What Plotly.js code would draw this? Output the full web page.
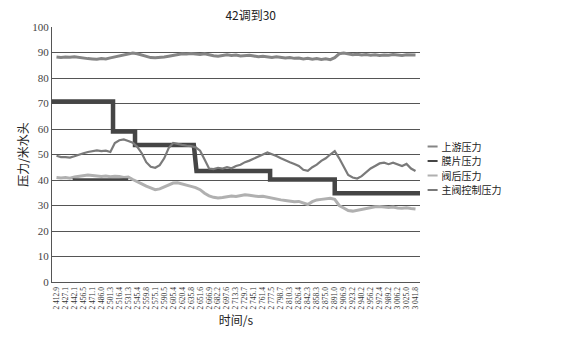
<!DOCTYPE html>
<html>
<head>
<meta charset="utf-8">
<script src="https://cdn.plot.ly/plotly-3.0.1.min.js"></script>
<style>html,body{margin:0;padding:0;background:#fff;}#chart{width:562px;height:343px;}</style>
</head>
<body>
<div id="chart"></div>
<script>
// Category (time) tick labels, in seconds
var timeLabels = ["2 412.9","2 427.1","2 442.1","2 456.5","2 471.1","2 486.0","2 501.3","2 516.4","2 531.3","2 545.4",
  "2 559.8","2 575.1","2 590.5","2 605.4","2 620.4","2 635.8","2 651.6","2 666.9","2 682.2","2 697.6",
  "2 713.3","2 729.7","2 745.1","2 761.4","2 777.5","2 798.7","2 810.3","2 826.4","2 842.3","2 858.3",
  "2 875.0","2 891.0","2 906.9","2 923.2","2 940.2","2 956.2","2 972.4","2 989.2","3 006.2","3 025.0","3 041.8"];

var seriesNames = ["上游压力","膜片压力","阀后压力","主阀控制压力"];

// 上游压力 (sampled every half category)
var upstream = [88.2,88.0,88.2,88.1,88.3,88.0,87.9,87.6,87.5,87.4,87.6,87.5,87.9,88.3,88.6,89.0,89.4,89.8,89.5,88.9,
  88.3,88.0,87.9,88.0,88.2,88.5,88.9,89.3,89.5,89.4,89.6,89.4,89.2,89.5,89.0,88.7,88.5,88.9,89.1,88.8,
  89.0,88.6,88.8,88.9,88.6,88.3,88.5,88.2,88.0,88.3,87.9,87.8,88.0,87.7,87.8,87.5,87.7,87.4,87.6,87.3,
  87.5,87.2,88.0,89.5,89.8,89.4,89.1,89.3,89.0,89.2,88.9,89.1,88.8,89.0,88.9,89.2,89.0,88.8,89.1,88.9,89.0];

// 阀后压力
var downstream = [41.0,40.8,41.0,40.7,41.2,41.5,41.8,42.0,41.8,41.5,41.4,41.6,41.3,41.5,41.4,41.0,41.2,40.2,39.5,38.5,
  37.6,36.8,36.2,36.5,37.3,38.0,38.8,38.9,38.5,38.0,37.5,37.0,36.2,34.8,33.8,33.2,32.9,33.1,33.4,33.7,
  33.5,34.0,34.2,34.0,33.8,33.5,33.6,33.2,32.9,32.4,32.2,32.0,31.7,31.5,31.6,31.0,30.4,31.5,32.2,32.4,
  32.6,32.8,32.4,30.0,29.0,28.0,27.8,28.2,28.5,28.8,29.2,29.5,29.6,29.4,29.2,29.4,29.0,28.9,29.1,28.8,28.6];

// 主阀控制压力
var mainControl = [49.5,49.0,49.0,48.8,49.3,50.0,50.5,51.0,51.4,51.6,51.3,51.5,51.0,54.5,55.6,55.9,55.3,54.6,53.0,50.5,
  47.0,45.2,44.8,45.8,48.5,52.5,54.5,54.0,53.8,53.5,53.3,52.8,51.5,48.0,44.5,44.3,44.8,44.5,45.0,44.6,
  45.5,46.0,47.0,47.6,48.5,49.3,50.0,50.8,50.2,49.4,48.5,47.6,47.0,46.3,45.5,44.0,43.6,45.0,46.0,47.5,
  48.5,50.0,51.3,48.5,45.0,42.0,41.0,40.6,41.5,43.0,44.5,45.5,46.5,46.8,46.2,46.8,46.0,45.5,46.3,44.5,43.5];

// 膜片压力: step levels with their category positions
var diaphragmPos = [-0.5,6.3,6.3,8.75,8.75,15.3,15.6,23.8,23.8,31.0,31.0,40.5];
var diaphragm    = [70.8,70.8,59.0,59.0,53.7,53.7,43.5,43.5,40.2,40.2,34.8,34.8];
// short extra dark segment near 40
var extraPos = [1.8,8.0];
var extraVal = [40.3,40.3];

var yTicks = [0,10,20,30,40,50,60,70,80,90,100];

var halfStep = function(arr){ return arr.map(function(_, i){ return i * 0.5; }); };
var tickIdx = timeLabels.map(function(_, i){ return i; });

var traces = [
  {x: halfStep(upstream), y: upstream, name: seriesNames[0], mode: 'lines', line: {color: '#858585', width: 3}},
  {x: diaphragmPos, y: diaphragm, name: seriesNames[1], mode: 'lines', line: {color: '#454545', width: 4.5}},
  {x: halfStep(downstream), y: downstream, name: seriesNames[2], mode: 'lines', line: {color: '#b0b0b0', width: 3}},
  {x: halfStep(mainControl), y: mainControl, name: seriesNames[3], mode: 'lines', line: {color: '#7a7a7a', width: 2.2}},
  {x: extraPos, y: extraVal, name: '', showlegend: false, mode: 'lines', line: {color: '#454545', width: 2}}
];

var serif = 'Liberation Serif, Noto Sans CJK SC, serif';
var cjk = 'Noto Sans CJK SC, sans-serif';

var layout = {
  width: 562, height: 343,
  margin: {l: 52, r: 142, t: 27, b: 61},
  paper_bgcolor: '#fff', plot_bgcolor: '#fff',
  title: {text: '42调到30', font: {family: cjk, size: 12, color: '#222'}, x: 0.54, xref: 'paper', xanchor: 'center', y: 0.955, yref: 'container', yanchor: 'middle'},
  showlegend: true,
  legend: {x: 0.95, xanchor: 'left', y: 0.58, yanchor: 'top', font: {family: cjk, size: 10, color: '#222'}, bgcolor: 'rgba(0,0,0,0)', itemwidth: 30, tracegroupgap: 0},
  xaxis: {
    range: [-0.5, 40.5], tickmode: 'array', tickvals: tickIdx, ticktext: timeLabels, tickangle: -90,
    tickfont: {family: serif, size: 7.5, color: '#333'}, showgrid: false, zeroline: false,
    showline: true, linecolor: '#555', linewidth: 1, ticks: '', ticklabelstandoff: 1,
    title: {text: '时间/s', font: {family: cjk, size: 12, color: '#222'}, standoff: 8}
  },
  yaxis: {
    range: [0, 100], tickmode: 'array', tickvals: yTicks, showgrid: true, gridcolor: '#555', gridwidth: 1,
    zeroline: false, showline: true, linecolor: '#555', linewidth: 1, ticks: '',
    tickfont: {family: serif, size: 11, color: '#444'},
    title: {text: '压力/米水头', font: {family: cjk, size: 12, color: '#222'}, standoff: 1}
  }
};

Plotly.newPlot('chart', traces, layout, {staticPlot: true, displayModeBar: false}).then(function(gd){
  var items = gd.querySelectorAll('.legend .traces');
  var base = null;
  items.forEach(function(el, i){
    var t = el.getAttribute('transform') || '';
    var m = /translate\(([-\d.]+)[ ,]+([-\d.]+)\)/.exec(t);
    var tx = m ? parseFloat(m[1]) : 0, ty = m ? parseFloat(m[2]) : 0;
    if (base === null) base = ty - 2;
    el.setAttribute('transform', 'translate(' + tx + ',' + (base + i * 14.5) + ')');
  });
  gd.querySelectorAll('.legend .legendlines path').forEach(function(p){
    p.setAttribute('d', 'M26,0h10');
    p.style.strokeWidth = '2px';
  });
});
</script>
</body>
</html>
